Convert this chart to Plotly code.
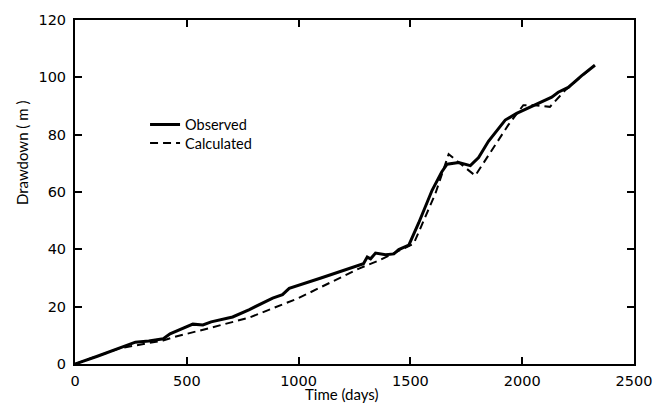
import plotly.graph_objects as go

# Observed drawdown record
obs_time = [0, 100, 270, 330, 395, 425, 527, 572, 609, 705, 780, 884, 928, 958,
            1100, 1270, 1290, 1307, 1322, 1344, 1389, 1426, 1448, 1493, 1537,
            1597, 1640, 1664, 1716, 1768, 1805, 1849, 1924, 1975, 2005, 2087,
            2132, 2161, 2206, 2265, 2325]
obs_drawdown = [0, 2.7, 7.6, 8.0, 8.8, 10.5, 13.9, 13.6, 14.7, 16.4, 19.0, 23.0,
                24.2, 26.4, 30.0, 34.4, 35.0, 37.3, 36.7, 38.7, 38.1, 38.4, 39.9,
                41.5, 49.2, 60.6, 67.0, 69.7, 70.3, 69.2, 72.0, 77.7, 85.1, 87.4,
                88.5, 91.4, 93.1, 94.8, 96.5, 100.5, 104.2]

# Model-calculated drawdown
calc_time = [0, 200, 394, 438, 600, 780, 1000, 1270, 1359, 1515, 1612, 1671,
             1790, 1938, 2005, 2057, 2124, 2191, 2265, 2325]
calc_drawdown = [0, 5.5, 8.2, 9.3, 12.5, 16.2, 23.0, 33.3, 36.1, 42.0, 59.5,
                 73.2, 65.7, 83.4, 90.3, 90.3, 89.7, 95.4, 100.3, 104.2]

x_ticks = [0, 500, 1000, 1500, 2000, 2500]
y_ticks = [0, 20, 40, 60, 80, 100, 120]

TEXT_FONT = "Lato"
TICK_FONT = "DejaVu Sans"

fig = go.Figure()
fig.add_trace(go.Scatter(x=obs_time, y=obs_drawdown, mode="lines", name="Observed",
                         line=dict(color="black", width=3), legend="legend",
                         showlegend=True))
fig.add_trace(go.Scatter(x=calc_time, y=calc_drawdown, mode="lines", name="Calculated",
                         line=dict(color="black", width=2, dash="8px,5px"),
                         legend="legend2", showlegend=True))

axis_common = dict(
    showgrid=False, zeroline=False, showline=True, linecolor="black", linewidth=2,
    mirror="allticks", ticks="inside", ticklen=7, tickwidth=1.5, tickcolor="black",
    tickfont=dict(family=TICK_FONT, size=14.5, color="black"),
)

fig.update_xaxes(range=[0, 2500], tickvals=x_ticks, ticklabelstandoff=3, **axis_common)
fig.update_yaxes(range=[0, 120], tickvals=y_ticks, ticklabelstandoff=4, **axis_common)

legend_style = dict(xanchor="left", yanchor="middle", bgcolor="rgba(0,0,0,0)",
                    font=dict(family=TEXT_FONT, size=14.5, color="black"))

fig.update_layout(
    width=664, height=420,
    margin=dict(l=75, r=28, t=12, b=56),
    plot_bgcolor="white", paper_bgcolor="white",
    showlegend=True,
    font=dict(family=TEXT_FONT, size=15, color="black"),
    legend=dict(x=0.1253, y=0.696, **legend_style),
    legend2=dict(x=0.1253, y=0.642, **legend_style),
    annotations=[
        dict(text="Time (days)", xref="paper", yref="paper", x=0.4777, y=-0.088,
             showarrow=False, xanchor="center", yanchor="middle",
             font=dict(family=TEXT_FONT, size=15)),
        dict(text="Drawdown ( m )", xref="paper", yref="paper", x=-0.0945, y=0.6136,
             showarrow=False, xanchor="center", yanchor="middle", textangle=-90,
             font=dict(family=TEXT_FONT, size=15)),
    ],
)

fig.write_html("out.html")
